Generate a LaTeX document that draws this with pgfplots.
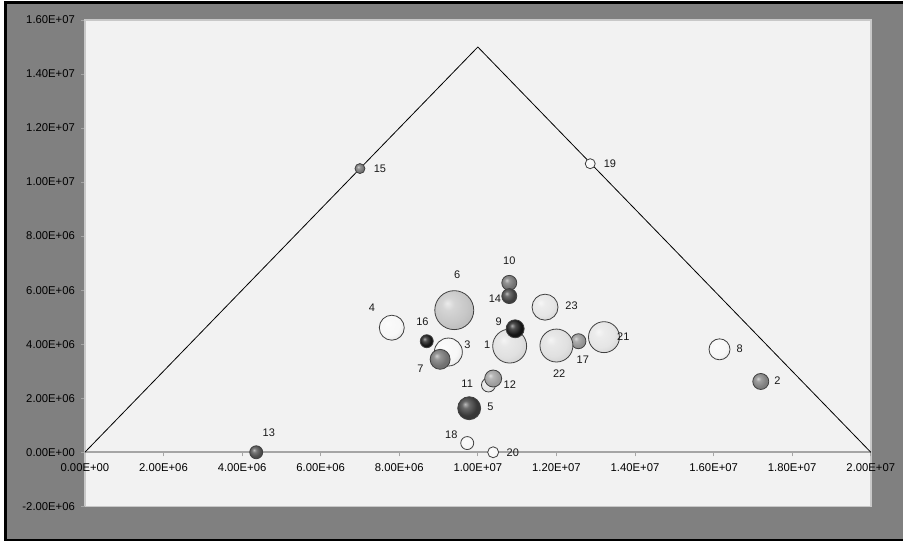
\documentclass[border=0pt]{standalone}
\usepackage{pgfplots}
\pgfplotsset{compat=1.18}
\usepackage{fontspec}
\setmainfont{Liberation Sans}
\definecolor{frameGray}{RGB}{128,128,128}
\definecolor{plotBg}{RGB}{242,242,242}
\definecolor{edgeGray}{RGB}{200,200,200}
\definecolor{axisGray}{RGB}{165,165,165}
\makeatletter
\pgfdeclareradialshading[tikz@ball]{bubble}{\pgfqpoint{-9bp}{9bp}}{%
  color(0bp)=(tikz@ball!35!white);
  color(8bp)=(tikz@ball!75!white);
  color(22bp)=(tikz@ball);
  color(40bp)=(tikz@ball!88!black);
  color(60bp)=(tikz@ball!80!black)}
\tikzset{bubble color/.code={\pgfutil@colorlet{tikz@ball}{#1}\def\tikz@shading{bubble}\tikz@addmode{\tikz@mode@shadetrue}}}
\makeatother
% #1 id, #2 x, #3 y, #4 diameter (px), #5 white share, #6 #7 label offset
\newcommand\bubble[7]{%
  \addplot[draw=none, mark=none, nodes near coords={},
    every node near coord/.style={anchor=center, circle, inner sep=0pt,
      minimum size=#4pt, draw=black!75, line width=0.8pt, bubble color=white!#5!black,
      label={[anchor=center, xshift=#6pt, yshift=#7pt, font=\fontsize{11}{13}\selectfont, text=black!90]center:#1}}]
    coordinates {(#2,#3)};}

\begin{document}
\begin{tikzpicture}[x=1pt,y=1pt]
\fill[white] (0,0) rectangle (904,543);
\fill[frameGray] (5,2) rectangle (904,541);
\draw[black, line width=2.5pt] (904,540.5) -- (5.5,540.5) -- (5.5,2.5) -- (904,2.5);
\begin{axis}[
  at={(85pt,36pt)}, anchor=south west,
  scale only axis, width=787pt, height=487pt,
  xmin=-1, xmax=20000000, ymin=-2000000, ymax=16000000,
  axis x line=middle, axis y line=left,
  scaled ticks=false,
  axis line style={-},
  x axis line style={axisGray, line width=1.6pt},
  y axis line style={edgeGray, line width=1pt},
  axis background/.style={fill=plotBg, draw=edgeGray, line width=1.5pt},
  xtick={0,2000000,4000000,6000000,8000000,10000000,12000000,14000000,16000000,18000000,20000000},
  xticklabels={0.00E+00,2.00E+06,4.00E+06,6.00E+06,8.00E+06,1.00E+07,1.20E+07,1.40E+07,1.60E+07,1.80E+07,2.00E+07},
  ytick={-2000000,0,2000000,4000000,6000000,8000000,10000000,12000000,14000000,16000000},
  yticklabels={-2.00E+06,0.00E+00,2.00E+06,4.00E+06,6.00E+06,8.00E+06,1.00E+07,1.20E+07,1.40E+07,1.60E+07},
  tick style={axisGray, line width=0.8pt},
  major tick length=4pt,
  tick align=outside,
  ticklabel style={font=\fontsize{11.3}{13}\selectfont, text=black},
  xticklabel style={yshift=-4pt},
  yticklabel style={xshift=-2.5pt},
  clip=false,
]
\bubble{1}{10810000}{3930000}{34}{88}{-22.6}{1.4}
\bubble{2}{17200000}{2620000}{16}{50}{16.6}{1}
\bubble{3}{9250000}{3710000}{28}{97}{19}{7.4}
\bubble{4}{7810000}{4610000}{25}{97}{-20}{19.6}
\bubble{5}{9780000}{1630000}{23}{22}{21.3}{1}
\bubble{6}{9400000}{5260000}{39}{78}{3}{35}
\bubble{7}{9040000}{3440000}{20}{45}{-19.7}{-9}
\bubble{8}{16150000}{3810000}{21}{97}{20.3}{1}
\bubble{9}{10950000}{4570000}{18}{8}{-16.4}{6.6}
\bubble{10}{10800000}{6270000}{15}{45}{0}{22.6}
\bubble{11}{10270000}{2490000}{14}{90}{-21.3}{1.7}
\bubble{12}{10390000}{2730000}{17}{62}{16.7}{-5.7}
\bubble{13}{4360000}{0}{13}{30}{12.6}{20}
\bubble{14}{10800000}{5780000}{15}{25}{-14.3}{-2.3}
\bubble{15}{7000000}{10500000}{10}{45}{20}{0}
\bubble{16}{8700000}{4110000}{13}{8}{-4.3}{20}
\bubble{17}{12560000}{4110000}{15}{58}{4.4}{-18.6}
\bubble{18}{9730000}{340000}{13}{97}{-16}{8}
\bubble{19}{12860000}{10680000}{10}{97}{19.7}{0}
\bubble{20}{10390000}{0}{11}{97}{19.7}{0}
\bubble{21}{13210000}{4260000}{31}{90}{19.3}{0.4}
\bubble{22}{12000000}{3950000}{33}{88}{2.7}{-28}
\bubble{23}{11710000}{5370000}{26}{90}{26.6}{1}
\addplot[black, line width=0.8pt, mark=none] coordinates {(0,0) (10000000,15000000) (20000000,0)};
\end{axis}
\end{tikzpicture}
\end{document}
